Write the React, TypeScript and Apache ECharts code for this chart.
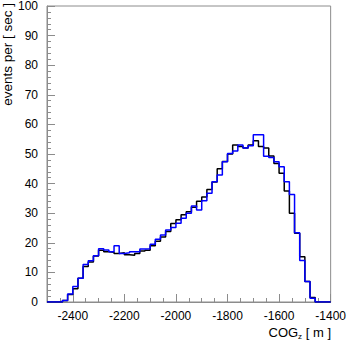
import React, { useEffect, useRef } from "react";
import * as echarts from "echarts";

// Histogram binning
const binStart = -2500;
const binWidth = 20;

// Black histogram: bin contents from -2500 to -1400 (55 bins of 20 m)
const blackValues = [
  0, 0, 0, 0.5, 2.5, 4.5, 8, 12, 13.5, 15.5,
  17.5, 17, 16.8, 16.4, 16.6, 16, 15.8, 16.4, 17.2, 17.5,
  19, 20.5, 22, 23.8, 26.5, 27.8, 29.5, 30.5, 32, 34,
  35.5, 38, 40.5, 45, 47.5, 50, 53, 52.5, 52, 53,
  54.5, 52.5, 52, 49.3, 46.8, 43.5, 37.5, 30, 23.2, 15.3,
  6.9, 1.5, 0, 0, 0,
];

// Blue histogram
const blueValues = [
  0, 0, 0, 0.5, 2.7, 5.2, 8, 12.7, 13.9, 15.6,
  18, 17.6, 17, 19, 16.4, 16.6, 17, 17, 17.9, 18,
  19.5, 21.2, 22.6, 24.3, 25.2, 26.6, 28.3, 30, 32.4, 31.1,
  34.2, 36.7, 40.6, 42.9, 47.4, 50.2, 51, 53, 52, 52.8,
  56.5, 56.5, 49.2, 48.8, 47.4, 45.7, 40.6, 36.3, 23.4, 14,
  6.9, 1.3, 0, 0, 0,
];

const xTickLabels = [-2400, -2200, -2000, -1800, -1600, -1400];
const yTitle = "events per [ sec ]";
const xTitleMain = "COG";
const xTitleSub = "z";
const xTitleUnit = " [ m ]";

function toSteps(values: number[]): number[][] {
  const pts: number[][] = values.map((v, i) => [binStart + i * binWidth, v]);
  pts.push([binStart + values.length * binWidth, values[values.length - 1]]);
  return pts;
}

export default function App() {
  const ref = useRef<HTMLDivElement>(null);
  useEffect(() => {
    if (!ref.current) return;
    const chart = echarts.init(ref.current, undefined, { renderer: "svg" });
    const axisGrey = "#8c8c8c";
    const font = "Liberation Sans, Arial, Helvetica, sans-serif";
    chart.setOption({
      animation: false,
      backgroundColor: "#ffffff",
      grid: {
        left: 47,
        top: 6,
        right: 18,
        bottom: 41,
        show: true,
        borderColor: axisGrey,
        borderWidth: 1,
        backgroundColor: "transparent",
      },
      xAxis: [
        {
          type: "value",
          min: -2500,
          max: -1400,
          position: "bottom",
          splitLine: { show: false },
          axisLine: { show: true, lineStyle: { color: axisGrey, width: 1 } },
          axisTick: {
            show: true,
            inside: true,
            length: 8,
            customValues: xTickLabels,
            lineStyle: { color: axisGrey },
          },
          axisLabel: {
            show: true,
            customValues: xTickLabels,
            formatter: (v: number) => String(v),
            margin: 8,
            color: "#000",
            fontSize: 12,
            fontFamily: font,
          },
        },
        {
          type: "value",
          min: -2500,
          max: -1400,
          interval: 50,
          position: "bottom",
          offset: 0,
          splitLine: { show: false },
          axisLine: { show: false },
          axisTick: { show: true, inside: true, length: 4, lineStyle: { color: axisGrey } },
          axisLabel: { show: false },
        },
      ],
      yAxis: {
        type: "value",
        min: 0,
        max: 100,
        interval: 10,
        splitLine: { show: false },
        axisLine: { show: true, lineStyle: { color: axisGrey, width: 1 } },
        axisTick: { show: true, inside: true, length: 8, lineStyle: { color: axisGrey } },
        minorTick: { show: true, splitNumber: 5, length: 4, lineStyle: { color: axisGrey } },
        axisLabel: {
          margin: 9,
          color: "#000",
          fontSize: 12,
          fontFamily: font,
        },
      },
      graphic: [
        {
          type: "text",
          x: 7,
          y: 3,
          rotation: Math.PI / 2,
          style: {
            text: yTitle,
            fill: "#000",
            font: `13.5px ${font}`,
            align: "right",
            verticalAlign: "middle",
          },
        },
        {
          type: "text",
          right: 18,
          top: 326,
          style: {
            text: `{a|${xTitleMain}}{s|${xTitleSub}}{a|${xTitleUnit}}`,
            rich: {
              a: { fontSize: 13, fontFamily: font, fill: "#000", lineHeight: 16 },
              s: { fontSize: 8, fontFamily: font, fill: "#000", lineHeight: 16, verticalAlign: "bottom", padding: [6, 0, 0, 0] },
            },
          },
        },
      ],
      series: [
        {
          type: "line",
          xAxisIndex: 0,
          step: "end",
          data: toSteps(blackValues),
          showSymbol: false,
          lineStyle: { color: "#000000", width: 1.5 },
          itemStyle: { color: "#000000" },
          z: 2,
        },
        {
          type: "line",
          xAxisIndex: 0,
          step: "end",
          data: toSteps(blueValues),
          showSymbol: false,
          lineStyle: { color: "#0000ff", width: 1.5 },
          itemStyle: { color: "#0000ff" },
          z: 3,
        },
      ],
    });
    return () => chart.dispose();
  }, []);
  return <div ref={ref} style={{ width: 349, height: 343, position: "absolute", left: 0, top: 0 }} />;
}
